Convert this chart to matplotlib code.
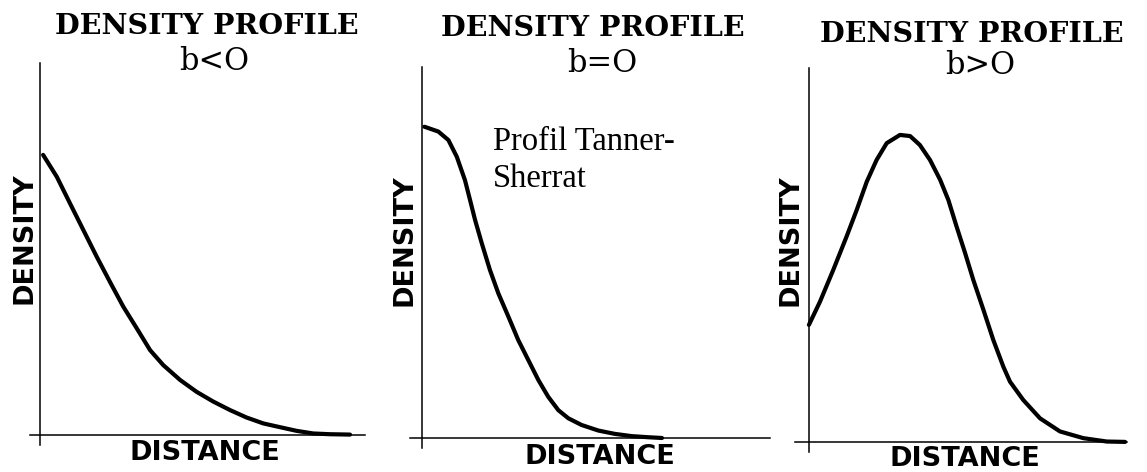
import matplotlib.pyplot as plt

# distance / density (distance 0..1, density 0..1 = top of the axis)
dist_neg = [0.01, 0.054, 0.096, 0.139, 0.182, 0.224, 0.267, 0.310, 0.353, 0.395, 0.449,
            0.502, 0.555, 0.609, 0.662, 0.716, 0.769, 0.823, 0.876, 0.929, 0.994]
dens_neg = [0.753, 0.694, 0.623, 0.551, 0.479, 0.412, 0.345, 0.287, 0.228, 0.188, 0.148,
            0.116, 0.090, 0.067, 0.047, 0.031, 0.021, 0.011, 0.004, 0.002, 0.001]

dist_zero = [0.01, 0.068, 0.110, 0.145, 0.179, 0.200, 0.221, 0.249, 0.283, 0.318, 0.360,
             0.401, 0.443, 0.485, 0.526, 0.568, 0.610, 0.665, 0.735, 0.804, 0.874, 0.943, 1.0]
dens_zero = [0.839, 0.826, 0.803, 0.758, 0.695, 0.642, 0.588, 0.525, 0.453, 0.390, 0.327,
             0.264, 0.210, 0.156, 0.111, 0.075, 0.053, 0.035, 0.020, 0.011, 0.005, 0.002, 0.0]

dist_pos = [0.0, 0.035, 0.077, 0.119, 0.151, 0.183, 0.214, 0.246, 0.288, 0.320, 0.351,
            0.383, 0.415, 0.441, 0.467, 0.494, 0.520, 0.552, 0.583, 0.615, 0.636, 0.678,
            0.731, 0.794, 0.868, 0.942, 1.0]
dens_pos = [0.313, 0.375, 0.460, 0.549, 0.620, 0.696, 0.754, 0.799, 0.821, 0.818, 0.794,
            0.754, 0.701, 0.647, 0.576, 0.505, 0.433, 0.353, 0.273, 0.201, 0.161, 0.112,
            0.063, 0.028, 0.010, 0.001, 0.0]

titles = ["DENSITY PROFILE", "DENSITY PROFILE", "DENSITY PROFILE"]
subtitles = ["b<O", "b=O", "b>O"]
note = ["Profil Tanner-", "Sherrat"]

W, H = 1147, 472
fig = plt.figure(figsize=(W / 100, H / 100), dpi=100)


def fx(px):
    return px / W


def fy(py):
    return 1 - py / H


# axes boxes in pixels: left, right, top, bottom ; then xlim
panels = [
    ((30, 365, 63, 445), (-0.032, 1.042), dist_neg, dens_neg),
    ((410, 770, 67, 448), (-0.05, 1.45), dist_zero, dens_zero),
    ((795, 1127, 68, 452), (-0.044, 1.006), dist_pos, dens_pos),
]

for (l, r, t, b), xl, xs, ys in panels:
    ax = fig.add_axes([fx(l), fy(b), (r - l) / W, (b - t) / H])
    ax.plot(xs, ys, color="black", lw=3, solid_capstyle="round", solid_joinstyle="round")
    ax.set_xlim(*xl)
    ax.set_ylim(-0.027, 1.0)
    ax.spines["left"].set_position(("data", 0))
    ax.spines["bottom"].set_position(("data", 0))
    ax.spines["top"].set_visible(False)
    ax.spines["right"].set_visible(False)
    for s in ("left", "bottom"):
        ax.spines[s].set_linewidth(1.1)
    ax.set_xticks([])
    ax.set_yticks([])
    ax.patch.set_alpha(0)

title_pos = [(207, 27), (593, 28), (972, 34)]
sub_pos = [(214, 61), (602, 63), (980, 66)]
ylab_pos = [(24, 238), (405, 240), (790, 240)]
xlab_pos = [(205, 453), (600, 457), (965, 459)]

for i in range(3):
    fig.text(fx(title_pos[i][0]), fy(title_pos[i][1]), titles[i], ha="center", va="center",
             family="DejaVu Serif", fontweight="bold", fontsize=20.5)
    fig.text(fx(sub_pos[i][0]), fy(sub_pos[i][1]), subtitles[i], ha="center", va="center",
             family="DejaVu Serif", fontsize=22)
    fig.text(fx(ylab_pos[i][0]), fy(ylab_pos[i][1]), "DENSITY", ha="center", va="center",
             rotation=90, family="DejaVu Sans", fontweight="bold", fontsize=19.5)
    fig.text(fx(xlab_pos[i][0]), fy(xlab_pos[i][1]), "DISTANCE", ha="center", va="center",
             family="DejaVu Sans", fontweight="bold", fontsize=19.5)

fig.text(fx(493), fy(150), note[0], ha="left", va="baseline",
         family="Liberation Serif", fontsize=23.5)
fig.text(fx(493), fy(187), note[1], ha="left", va="baseline",
         family="Liberation Serif", fontsize=23.5)

fig.savefig("out.png", dpi=100)
